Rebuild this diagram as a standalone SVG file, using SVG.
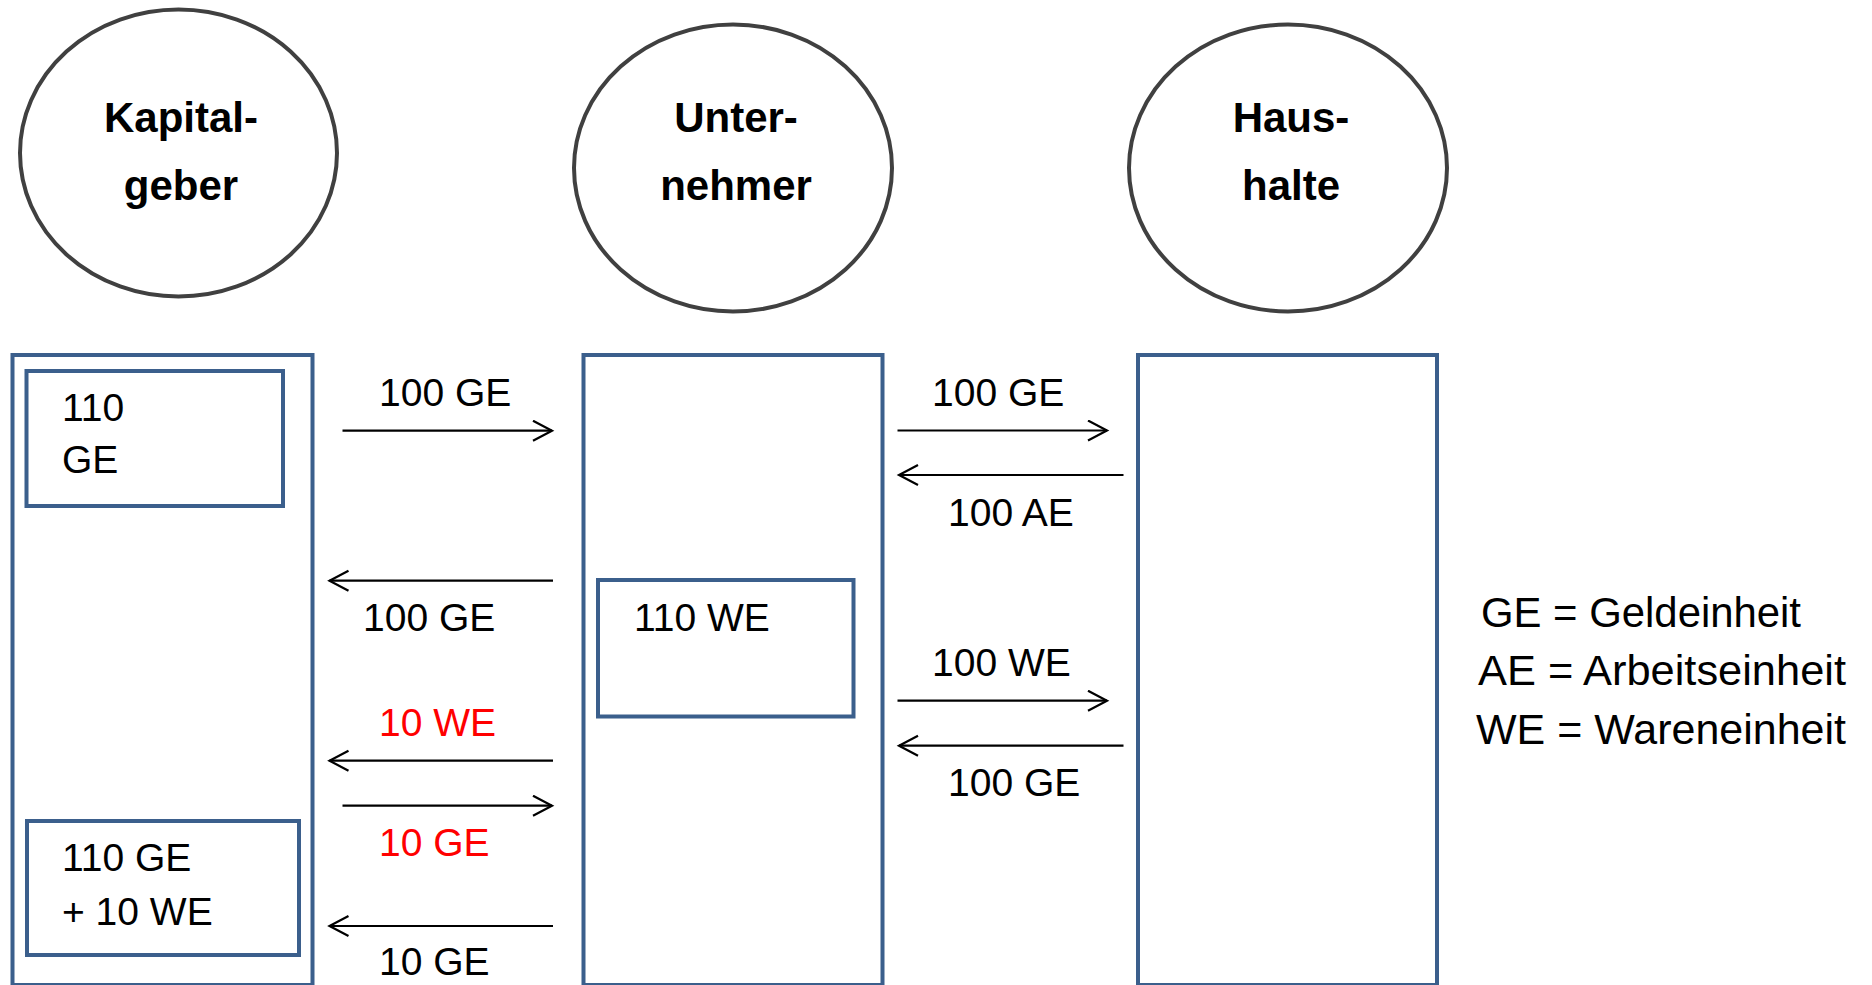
<svg xmlns="http://www.w3.org/2000/svg" width="1872" height="985" viewBox="0 0 1872 985">
<style>
.ell{fill:#fff;stroke:#404040;stroke-width:4}
.box{fill:#fff;stroke:#3B5F8C;stroke-width:4}
.tb{font-family:"Liberation Sans",Arial,sans-serif;font-weight:bold;font-size:42px;fill:#000;text-anchor:middle}
.t{font-family:"Liberation Sans",Arial,sans-serif;font-size:39px;fill:#000}
.lg{font-family:"Liberation Sans",Arial,sans-serif;font-size:42px;fill:#000}
.red{fill:#FF0000}
.arr{stroke:#000;stroke-width:2.2;fill:none;marker-end:url(#head)}
</style>
<defs>
<marker id="head" markerUnits="userSpaceOnUse" markerWidth="24" markerHeight="24" refX="20" refY="11" orient="auto" viewBox="0 0 24 24">
<path d="M1,1 L20,11 L1,21" fill="none" stroke="#000" stroke-width="2.2"/>
</marker>
</defs>
<g id="kapitalgeber">
<ellipse class="ell" cx="178.5" cy="153" rx="158.5" ry="143.5"/>
<text class="tb" x="181" y="131.5">Kapital-</text>
<text class="tb" x="181" y="200">geber</text>
</g>
<g id="unternehmer">
<ellipse class="ell" cx="733" cy="168" rx="159" ry="143.5"/>
<text class="tb" x="736" y="131.5">Unter-</text>
<text class="tb" x="736" y="200">nehmer</text>
</g>
<g id="haushalte">
<ellipse class="ell" cx="1288" cy="168" rx="159" ry="143.5"/>
<text class="tb" x="1291" y="131.5">Haus-</text>
<text class="tb" x="1291" y="200">halte</text>
</g>
<g id="kapitalgeber-konto">
<rect class="box" x="12.5" y="355" width="300" height="630"/>
</g>
<g id="unternehmer-konto">
<rect class="box" x="583.5" y="355" width="299" height="630"/>
</g>
<g id="haushalte-konto">
<rect class="box" x="1138" y="355" width="299" height="630"/>
</g>
<g id="bestand-110ge">
<rect class="box" x="26.5" y="371" width="256.5" height="135"/>
<text class="t" x="62" y="421">110</text>
<text class="t" x="62" y="473">GE</text>
</g>
<g id="bestand-110we">
<rect class="box" x="598" y="580" width="255.5" height="136.5"/>
<text class="t" x="634" y="631">110 WE</text>
</g>
<g id="bestand-end">
<rect class="box" x="27" y="821" width="272" height="134"/>
<text class="t" x="62" y="870.5">110 GE</text>
<text class="t" x="62" y="925">+ 10 WE</text>
</g>
<g id="connectors">
<line class="arr" x1="342.5" y1="430.7" x2="552" y2="430.7"/>
<line class="arr" x1="553" y1="580.7" x2="329.5" y2="580.7"/>
<line class="arr" x1="553" y1="760.7" x2="329.5" y2="760.7"/>
<line class="arr" x1="342.5" y1="805.7" x2="552" y2="805.7"/>
<line class="arr" x1="553" y1="926" x2="329.5" y2="926"/>
<line class="arr" x1="897.5" y1="430.5" x2="1107" y2="430.5"/>
<line class="arr" x1="1123.5" y1="475" x2="899" y2="475"/>
<line class="arr" x1="897.5" y1="700.7" x2="1107" y2="700.7"/>
<line class="arr" x1="1123.5" y1="745.7" x2="899" y2="745.7"/>
</g>
<g id="labels">
<text class="t" x="379" y="405.7">100 GE</text>
<text class="t" x="363" y="631">100 GE</text>
<text class="t red" x="379" y="735.7">10 WE</text>
<text class="t red" x="379" y="855.7">10 GE</text>
<text class="t" x="379" y="975">10 GE</text>
<text class="t" x="932" y="405.7">100 GE</text>
<text class="t" x="948" y="525.7">100 AE</text>
<text class="t" x="932" y="675.7">100 WE</text>
<text class="t" x="948" y="795.7">100 GE</text>
</g>
<g id="legende">
<text class="lg" x="1481" y="626.7" textLength="320" lengthAdjust="spacingAndGlyphs">GE = Geldeinheit</text>
<text class="lg" x="1478" y="685" textLength="368" lengthAdjust="spacingAndGlyphs">AE = Arbeitseinheit</text>
<text class="lg" x="1476" y="744.3" textLength="370" lengthAdjust="spacingAndGlyphs">WE = Wareneinheit</text>
</g>
</svg>
